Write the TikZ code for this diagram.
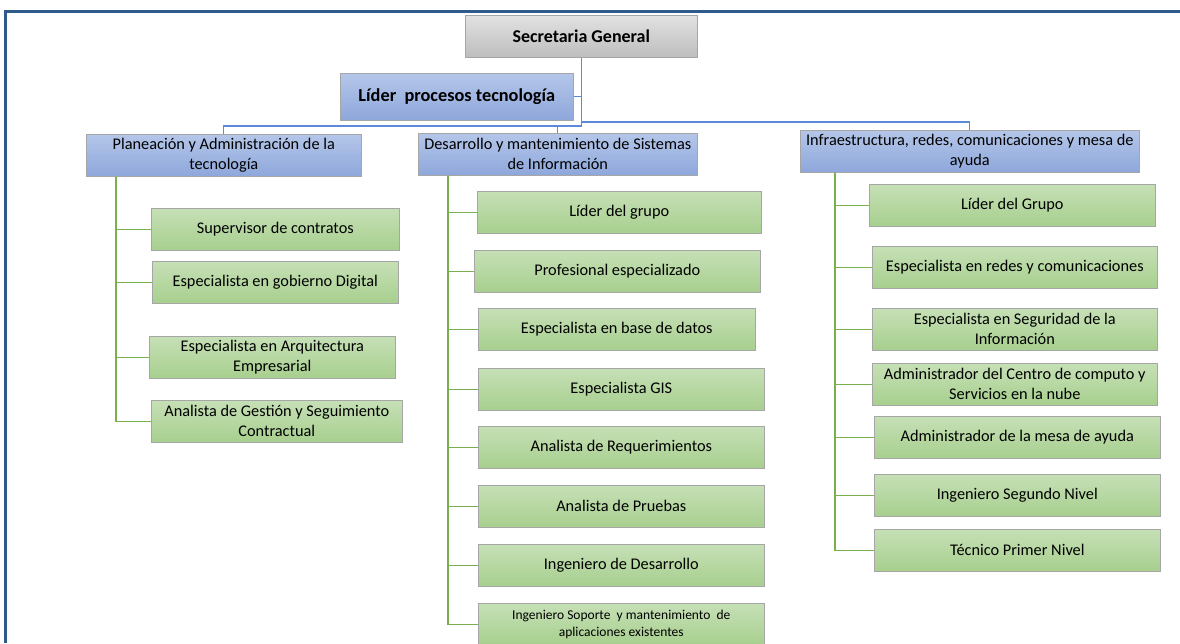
\documentclass[tikz,border=0pt]{standalone}
\usepackage{fontspec}
\setmainfont{Carlito}
\usepackage{xcolor}

\begin{document}
\begin{tikzpicture}[x=1pt,y=-1pt,
  orgbox/.style={draw=gray!70,line width=0.6pt,minimum height=42,align=center,inner sep=1pt,anchor=north west,font=\fontsize{16.3}{20}\selectfont},
  greybox/.style={orgbox,top color=greytop,bottom color=greybot,font=\fontsize{18}{20}\selectfont\bfseries},
  bluebox/.style={orgbox,top color=bluetop,bottom color=bluebot},
  greenbox/.style={orgbox,top color=greentop,bottom color=greenbot},
  blueline/.style={draw=lineblue,line width=1.2pt},
  greenline/.style={draw=linegreen,line width=1.2pt}]
\definecolor{frameblue}{HTML}{2F5B8A}
\definecolor{greytop}{HTML}{E2E2E2}
\definecolor{greybot}{HTML}{BDBDBD}
\definecolor{bluetop}{HTML}{B4C6E9}
\definecolor{bluebot}{HTML}{8EA7DB}
\definecolor{greentop}{HTML}{C6E0B6}
\definecolor{greenbot}{HTML}{A7CF8E}
\definecolor{lineblue}{HTML}{5B8BD8}
\definecolor{linegreen}{HTML}{78B04E}
\useasboundingbox (0,0) rectangle (1180,643);
\draw[frameblue,line width=3pt] (5,643) -- (5,11) -- (1181,11);

\node[greybox,minimum width=232] (secgen) at (465,15) {Secretaria General};
\node[greybox,minimum width=233,minimum height=47,top color=bluetop,bottom color=bluebot,font=\fontsize{18.3}{20}\selectfont\bfseries] (lider) at (340,73) {Líder~ procesos tecnología};
\node[bluebox,minimum width=275] (planea) at (86,134) {Planeación y Administración de la\\tecnología};
\node[bluebox,minimum width=279] (desa) at (418,133) {Desarrollo y mantenimiento de Sistemas\\de Información};
\node[bluebox,minimum width=339] (infra) at (800,130) {Infraestructura, redes, comunicaciones y mesa de\\ayuda};

\coordinate (busR) at (infra.north |- 0,122);
\coordinate (busL) at (planea.north |- 0,126);
\draw[blueline] (lider.east) -- (lider.east -| secgen.south);
\draw[blueline] (secgen.south) |- (busR) -- (infra.north);
\draw[blueline] (secgen.south) |- (busL) -- (planea.north);
\draw[blueline] (desa.north |- busL) -- (desa.north);

\coordinate (spineA) at ([xshift=30]planea.south west);
\coordinate (spineB) at ([xshift=30]desa.south west);
\coordinate (spineC) at ([xshift=35]infra.south west);

\foreach \nm/\xx/\yy/\ww/\txt in {
  supervisor/151/208/248/{Supervisor de contratos},
  gobierno/152/261/246/{Especialista en gobierno Digital},
  arquitectura/149/336/246/{Especialista en Arquitectura\\Empresarial},
  gestion/151/400/251/{Analista de Gestión y Seguimiento\\Contractual}}
{ \node[greenbox,minimum width=\ww] (\nm) at (\xx,\yy) {\txt};
  \draw[greenline] (spineA) |- (\nm.west); }

\foreach \nm/\xx/\yy/\ww/\txt in {
  lidergrupo/477/191/284/{Líder del grupo},
  profesional/474/250/286/{Profesional especializado},
  basedatos/478/308/277/{Especialista en base de datos},
  gis/478/368/286/{Especialista GIS},
  requerimientos/478/426/286/{Analista de Requerimientos},
  pruebas/478/485/286/{Analista de Pruebas},
  ingdesarrollo/478/544/286/{Ingeniero de Desarrollo}}
{ \node[greenbox,minimum width=\ww] (\nm) at (\xx,\yy) {\txt};
  \draw[greenline] (spineB) |- (\nm.west); }
\node[greenbox,minimum width=286,font=\fontsize{13.5}{17}\selectfont] (soporte) at (478,603) {Ingeniero Soporte~ y mantenimiento~ de\\aplicaciones existentes};
\draw[greenline] (spineB) |- (soporte.west);

\foreach \nm/\xx/\yy/\ww/\txt in {
  lidergrupoC/869/184/286/{Líder del Grupo},
  redes/872/246/285/{Especialista en redes y comunicaciones},
  seguridad/872/308/285/{Especialista en Seguridad de la\\Información},
  centro/872/363/285/{Administrador del Centro de computo y\\Servicios en la nube},
  mesa/874/416/286/{Administrador de la mesa de ayuda},
  segundo/874/474/286/{Ingeniero Segundo Nivel},
  tecnico/874/529/286/{Técnico Primer Nivel}}
{ \node[greenbox,minimum width=\ww] (\nm) at (\xx,\yy) {\txt};
  \draw[greenline] (spineC) |- (\nm.west); }
\end{tikzpicture}
\end{document}
